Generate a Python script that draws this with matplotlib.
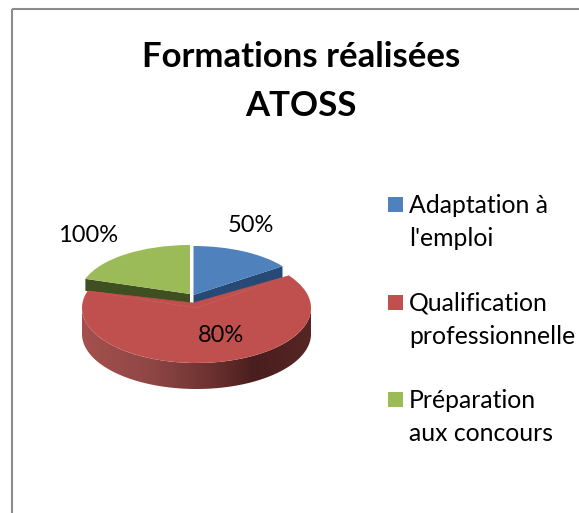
import numpy as np
import matplotlib
matplotlib.use("Agg")
import matplotlib.pyplot as plt
from matplotlib.colors import LinearSegmentedColormap
from matplotlib.patches import Polygon, Rectangle
from matplotlib.transforms import Affine2D

# Data
title = "Formations réalisées\nATOSS"
categories = ["Adaptation à\nl'emploi", "Qualification\nprofessionnelle", "Préparation\naux concours"]
shares = [15, 65, 20]
labels = ["50%", "80%", "100%"]
colors = ["#4F81BD", "#C0504D", "#9BBB59"]
wall_colors = ["#264A75", "#C0504D", "#3F4F22"]

W, H = 579, 513
plt.rcParams["font.family"] = ["Lato", "DejaVu Sans"]

fig = plt.figure(figsize=(W / 100, H / 100), dpi=100)
ax = fig.add_axes([0, 0, 1, 1])

wedges, _ = ax.pie(shares, colors=colors, startangle=90, counterclock=False,
                   wedgeprops={"linewidth": 0})
ax.set_aspect("auto")
ax.set_xlim(0, W)
ax.set_ylim(H, 0)

# ellipse of each slice (centre x, centre y, radius x, radius y), px
geom = [(193.5, 295, 110, 49), (196.5, 308, 114.5, 55), (190, 294, 110, 49)]
RED_APEX = (193, 303)
WALL = 12
RED_DEPTH = 26


def ellipse_pt(g, deg):
    t = np.radians(deg)
    return g[0] + g[2] * np.cos(t), g[1] - g[3] * np.sin(t)


for i, w in enumerate(wedges):
    g = geom[i]
    w.set_transform(Affine2D().scale(g[2], -g[3]).translate(g[0], g[1]) + ax.transData)
    w.set_zorder(4 if i != 1 else 3)

# cut faces of the blue and green slices
for i, edge in [(0, wedges[0].theta1), (2, wedges[2].theta2)]:
    g = geom[i]
    px, py = ellipse_pt(g, edge)
    ax.add_patch(Polygon([(g[0], g[1]), (px, py), (px, py + WALL), (g[0], g[1] + WALL)],
                         closed=True, fc=wall_colors[i], ec="none", zorder=2))

# red slice: apex sits behind the ellipse centre because of the perspective
g = geom[1]
right = ellipse_pt(g, wedges[1].theta2)
left = ellipse_pt(g, wedges[1].theta1)
ax.add_patch(Polygon([RED_APEX, right, (g[0], g[1]), left], closed=True,
                     fc=colors[1], ec=colors[1], lw=0.5, zorder=3))

# red outer wall with Excel style gradient
t = np.linspace(180, 360, 120)
xs = g[0] + g[2] * np.cos(np.radians(t))
ys = g[1] - g[3] * np.sin(np.radians(t))
side = np.r_[np.c_[xs, ys], np.c_[xs[::-1], ys[::-1] + RED_DEPTH]]
clip = Polygon(side, closed=True, fc="none", ec="none")
ax.add_patch(clip)
cmap = LinearSegmentedColormap.from_list("side", [
    (0.0, "#A5504E"), (0.3, "#8E4745"), (0.55, "#6E3331"),
    (0.75, "#4A1E1E"), (1.0, "#552624")])
im = ax.imshow(np.linspace(0, 1, 256)[None, :], cmap=cmap, aspect="auto", zorder=2,
               extent=(g[0] - g[2], g[0] + g[2], H, 0))
im.set_clip_path(clip)
ax.set_xlim(0, W)
ax.set_ylim(H, 0)

# chart frame, only top and left fall inside the picture
ax.add_patch(Rectangle((11.5, 8.5), W, H, fc="none", ec="#8C8C8C", lw=1.5, zorder=1))

ax.text(301, 81.5, title, ha="center", va="center", fontsize=25, fontweight="bold",
        linespacing=1.68, color="black", zorder=6)

# data labels
label_pos = [(251, 225), (221, 336), (88, 235)]
for (x, y), s in zip(label_pos, labels):
    ax.text(x, y, s, ha="center", va="center", fontsize=17, color="black", zorder=6)

# legend
legend_y = [197, 295, 392]
for y, c, s in zip(legend_y, colors, categories):
    ax.add_patch(Rectangle((388, y), 15, 15, fc=c, ec="none", zorder=6))
    ax.text(409, y - 3, s, ha="left", va="top", fontsize=17.8, linespacing=1.52,
            color="black", zorder=6)

fig.savefig("out.png", dpi=100)
